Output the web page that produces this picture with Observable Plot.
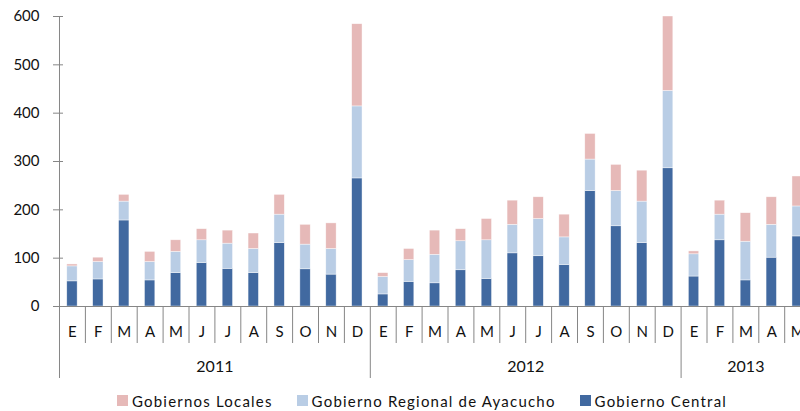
<!DOCTYPE html>
<html><head><meta charset="utf-8">
<script src="https://cdn.jsdelivr.net/npm/d3@7"></script>
<script src="https://cdn.jsdelivr.net/npm/@observablehq/plot@0.6"></script>
<style>
body{margin:0;background:#fff;font-family:Lato, sans-serif;}
#legend{display:flex;align-items:center;height:21px;padding-left:117px;font-size:15px;color:#111;letter-spacing:1.2px}
.item{display:flex;align-items:center;margin-right:24px}
.sw{width:11px;height:11px;margin-right:4px}
</style></head><body><div id="chart"></div><div id="legend"></div>
<script>
const years = ["2011","2012","2013"];
const monthLetters = ["E","F","M","A","M","J","J","A","S","O","N","D"];
const monthsPerYear = [12,12,5];
const central  = [52,56,178,54,69,90,78,69,131,77,66,265, 25,51,48,75,57,110,104,86,239,166,131,286, 62,137,54,101,145];
const regional = [31,36,39,38,44,47,52,50,59,51,53,149, 36,45,59,60,80,59,77,57,65,73,86,160, 46,53,80,68,62];
const locales  = [4,9,14,21,24,23,27,32,41,41,53,170, 8,23,50,25,44,50,45,47,53,54,64,154, 6,29,59,57,62];
const seriesNames = ["Gobiernos Locales","Gobierno Regional de Ayacucho","Gobierno Central"];
const colors = ["#E6B9B8","#B9CDE5","#4169A0"];
const yTicks = [0,100,200,300,400,500,600];

// build month table
const months = [];
years.forEach((y, yi) => {
  for (let m = 0; m < monthsPerYear[yi]; m++) {
    months.push({key: `${y}-${m}`, letter: monthLetters[m], year: y, first: m === 0});
  }
});
const rows = [];
months.forEach((mo, i) => {
  rows.push({key: mo.key, series: "Gobierno Central", value: central[i]});
  rows.push({key: mo.key, series: "Gobierno Regional de Ayacucho", value: regional[i]});
  rows.push({key: mo.key, series: "Gobiernos Locales", value: locales[i]});
});
const yearInfo = [];
let start = 0;
years.forEach((y, yi) => {
  const n = monthsPerYear[yi];
  const even = n % 2 === 0;
  yearInfo.push({year: y, even, midKey: months[start + (even ? n / 2 : (n - 1) / 2)].key, startKey: months[start].key});
  start += n;
});

const W = 800, H = 390, mL = 58, mT = 16, mB = 84;
const x0 = 59, step = 25.9;
const frameH = H - mT - mB;
const gray = "#868686";

const chart = Plot.plot({
  width: W, height: H,
  marginLeft: mL, marginRight: 0, marginTop: mT, marginBottom: mB,
  style: {fontFamily: "Lato, sans-serif", fontSize: "15px", color: "#111", background: "#fff"},
  x: {type: "band", domain: months.map(d => d.key), range: [x0, x0 + months.length * step], paddingInner: 0.6, paddingOuter: 0.3, round: false, axis: null},
  y: {domain: [0, 600], label: null, axis: null},
  color: {domain: seriesNames, range: colors},
  marks: [
    Plot.barY(rows, {x: "key", y: "value", fill: "series", stroke: "#fff", strokeWidth: 0.6, strokeOpacity: 0.7}),
    Plot.ruleY([0], {stroke: gray, strokeWidth: 1.2}),
    Plot.axisY(yTicks, {tickSize: 5, tickPadding: 14, fontSize: 15, stroke: gray, fill: "#111"}),
    Plot.tickY(yTicks, {y: d => d, stroke: gray, insetRight: W - mL - 5}),
    // left axis line extending down to year band
    Plot.ruleX([months[0].key], {dx: -step / 2, stroke: gray, insetBottom: -72}),
    // year separators
    Plot.ruleX(yearInfo.slice(1), {x: "startKey", dx: -step / 2, stroke: gray, insetTop: frameH, insetBottom: -72}),
    // month separators
    Plot.ruleX(months.filter(d => !d.first), {x: "key", dx: -step / 2, stroke: gray, insetTop: frameH, insetBottom: -37}),
    Plot.text(months, {x: "key", text: "letter", frameAnchor: "bottom", dy: 30, fontSize: 15, fill: "#111"}),
    Plot.text(yearInfo.filter(d => d.even), {x: "midKey", text: "year", frameAnchor: "bottom", dy: 65, dx: -step / 2, fontSize: 16, fill: "#111"}),
    Plot.text(yearInfo.filter(d => !d.even), {x: "midKey", text: "year", frameAnchor: "bottom", dy: 65, fontSize: 16, fill: "#111"})
  ]
});
document.getElementById("chart").appendChild(chart);

const legend = document.getElementById("legend");
seriesNames.forEach((name, i) => {
  const it = document.createElement("div");
  it.className = "item";
  const sw = document.createElement("span");
  sw.className = "sw";
  sw.style.background = colors[i];
  const t = document.createElement("span");
  t.textContent = name;
  it.appendChild(sw); it.appendChild(t);
  legend.appendChild(it);
});
</script></body></html>
